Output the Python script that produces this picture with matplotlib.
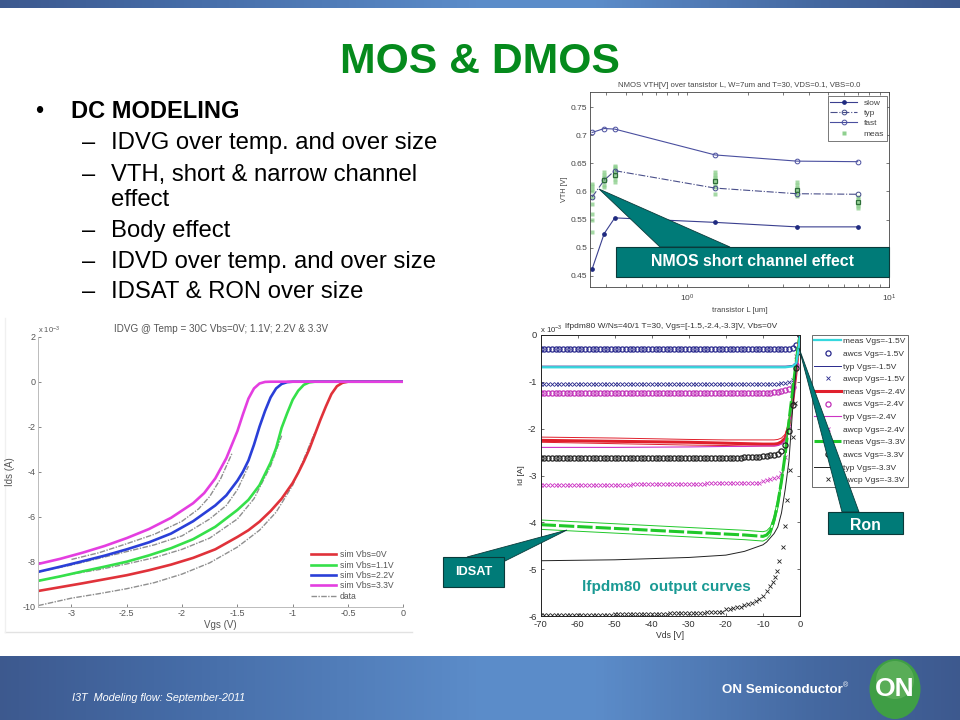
import numpy as np
import matplotlib
matplotlib.use("Agg")
import matplotlib.pyplot as plt
from matplotlib.patches import Polygon, Rectangle, Ellipse
from matplotlib.ticker import FixedLocator, NullFormatter

plt.rcParams['font.family'] = ['Liberation Sans', 'DejaVu Sans']
plt.rcParams['axes.unicode_minus'] = False

W, H = 960, 720

# ---- NMOS VTH chart ----
L_um = [0.34, 0.39, 0.44, 1.38, 3.5, 7.0]
vth_slow = [0.462, 0.525, 0.553, 0.545, 0.537, 0.537]
vth_typ = [0.590, 0.620, 0.637, 0.606, 0.596, 0.595]
vth_fast = [0.705, 0.712, 0.711, 0.665, 0.654, 0.653]
meas_L = [0.34]*9 + [0.39]*7 + [0.44]*8 + [1.38]*8 + [3.5]*6 + [7.0]*6
meas_vth = [0.528, 0.55, 0.56, 0.578, 0.59, 0.60, 0.605, 0.61, 0.613,
            0.608, 0.612, 0.618, 0.622, 0.626, 0.63, 0.634,
            0.617, 0.622, 0.628, 0.632, 0.636, 0.64, 0.643, 0.646,
            0.595, 0.608, 0.613, 0.618, 0.622, 0.626, 0.63, 0.635,
            0.592, 0.598, 0.603, 0.607, 0.611, 0.616,
            0.57, 0.574, 0.578, 0.582, 0.586, 0.591]
box_L = [0.39, 0.44, 1.38, 3.5, 7.0]
box_vth = [0.621, 0.630, 0.618, 0.603, 0.582]

# ---- IDVG chart ----
vgs_red = [-3.3, -3.1, -2.9, -2.7, -2.5, -2.3, -2.1, -1.9, -1.7, -1.5, -1.4, -1.3, -1.2, -1.1, -1.0, -0.95, -0.9, -0.85, -0.8, -0.75, -0.7, -0.65, -0.6, -0.55, -0.5, 0]
ids_red = [-9.3, -9.13, -8.96, -8.78, -8.6, -8.38, -8.13, -7.83, -7.45, -6.9, -6.6, -6.22, -5.75, -5.2, -4.5, -4.05, -3.55, -3.0, -2.35, -1.7, -1.1, -0.55, -0.2, -0.05, 0, 0]
vgs_green = [-3.3, -3.1, -2.9, -2.7, -2.5, -2.3, -2.1, -1.9, -1.7, -1.5, -1.4, -1.3, -1.2, -1.15, -1.1, -1.05, -1.0, -0.95, -0.9, -0.85, -0.8, 0]
ids_green = [-8.85, -8.65, -8.43, -8.22, -8.0, -7.72, -7.4, -7.0, -6.45, -5.7, -5.25, -4.6, -3.6, -2.95, -2.05, -1.4, -0.8, -0.4, -0.14, -0.03, 0, 0]
vgs_blue = [-3.3, -3.1, -2.9, -2.7, -2.5, -2.3, -2.1, -1.9, -1.7, -1.6, -1.5, -1.45, -1.4, -1.35, -1.3, -1.25, -1.2, -1.15, -1.1, -1.05, -1.0, 0]
ids_blue = [-8.45, -8.22, -7.98, -7.73, -7.45, -7.14, -6.75, -6.2, -5.5, -5.05, -4.4, -4.0, -3.5, -2.8, -2.0, -1.3, -0.7, -0.3, -0.1, -0.02, 0, 0]
vgs_mag = [-3.3, -3.1, -2.9, -2.7, -2.5, -2.3, -2.1, -1.9, -1.8, -1.7, -1.6, -1.55, -1.5, -1.45, -1.4, -1.35, -1.3, -1.25, -1.2, 0]
ids_mag = [-8.1, -7.87, -7.6, -7.3, -6.95, -6.55, -6.05, -5.4, -4.95, -4.3, -3.4, -2.8, -2.2, -1.45, -0.75, -0.3, -0.08, -0.01, 0, 0]
vgs_data = [-3.3, -3, -2.75, -2.5, -2.25, -2, -1.75, -1.5, -1.3, -1.15, -1, -0.9, -0.8]
ids_data_red = [-9.95, -9.62, -9.42, -9.2, -8.93, -8.55, -8.05, -7.35, -6.6, -5.8, -4.6, -3.45, -2.25]
vgs_data2 = [-3.3, -3, -2.75, -2.5, -2.25, -2, -1.75, -1.5, -1.35, -1.2, -1.1]
ids_data_green = [-8.85, -8.55, -8.35, -8.1, -7.82, -7.45, -6.95, -6.1, -5.2, -3.75, -2.4]
vgs_data3 = [-3.3, -3, -2.75, -2.5, -2.25, -2, -1.75, -1.6, -1.5, -1.4]
ids_data_blue = [-8.45, -8.15, -7.85, -7.55, -7.25, -6.85, -6.1, -5.5, -4.8, -3.75]
vgs_data4 = [-3, -2.75, -2.5, -2.25, -2, -1.85, -1.75, -1.65, -1.55]
ids_data_mag = [-7.9, -7.6, -7.2, -6.78, -6.2, -5.65, -5.1, -4.3, -3.2]

# ---- Output curves chart ----
vds_sweep = list(range(-70, 1))
awcs15 = [-0.30]*66 + [-0.30, -0.29, -0.27, -0.22, 0.0]
awcp15 = [-1.05]*64 + [-1.04, -1.03, -1.02, -1.0, -0.96, -0.65, 0.0]
awcs24 = [-1.24]*63 + [-1.22, -1.21, -1.2, -1.18, -1.15, -1.1, -0.65, 0.0]
awcp24 = [-3.2]*25 + [-3.18]*20 + [-3.15]*15 + [-3.12, -3.1, -3.08, -3.06, -3.03, -2.95, -2.6, -1.95, -1.1, -0.45, 0.0]
awcs33 = [-2.62]*55 + [-2.61]*5 + [-2.58, -2.58, -2.57, -2.56, -2.55, -2.48, -2.35, -2.05, -1.5, -0.7, 0.0]
vds_awcp33 = list(range(-70, -20)) + [-20, -19, -18, -17, -16, -15, -14, -13, -12, -11, -10, -9, -8, -7.2, -6.8, -6.1, -5.6, -4.7, -4, -3.4, -2.7, -1.8, -1.35, -0.4, 0]
awcp33 = [-5.97]*20 + [-5.95]*15 + [-5.93]*10 + [-5.91]*5 + [-5.85, -5.84, -5.83, -5.81, -5.8, -5.77, -5.75, -5.72, -5.68, -5.63, -5.57, -5.47, -5.37, -5.27, -5.17, -5.03, -4.83, -4.53, -4.07, -3.52, -2.88, -2.18, -1.46, -0.4, 0.0]

vds_line = [-70, -50, -30, -20, -15, -10, -9, -8, -7, -6, -5, -4, -3, -2, -1, -0.4, 0]
meas15 = [-0.69, -0.69, -0.69, -0.69, -0.69, -0.69, -0.69, -0.69, -0.69, -0.69, -0.69, -0.69, -0.68, -0.67, -0.6, -0.3, 0]
typ15 = [-0.665, -0.665, -0.665, -0.665, -0.665, -0.665, -0.665, -0.665, -0.665, -0.665, -0.665, -0.665, -0.66, -0.65, -0.58, -0.28, 0]
meas24 = [-2.25, -2.27, -2.29, -2.31, -2.32, -2.33, -2.33, -2.33, -2.33, -2.32, -2.28, -2.2, -1.93, -1.45, -0.75, -0.25, 0]
meas24a = [-2.18, -2.2, -2.23, -2.24, -2.24, -2.24, -2.24, -2.24, -2.24, -2.23, -2.2, -2.12, -1.88, -1.4, -0.72, -0.24, 0]
meas24b = [-2.29, -2.32, -2.35, -2.36, -2.37, -2.37, -2.37, -2.37, -2.37, -2.36, -2.32, -2.24, -1.97, -1.5, -0.78, -0.26, 0]
typ24 = [-2.40, -2.40, -2.39, -2.38, -2.38, -2.37, -2.37, -2.37, -2.37, -2.36, -2.33, -2.25, -1.98, -1.5, -0.78, -0.26, 0]
meas33 = [-4.05, -4.13, -4.21, -4.25, -4.27, -4.3, -4.27, -4.18, -3.95, -3.6, -3.12, -2.55, -1.85, -1.2, -0.55, -0.2, 0]
meas33a = [-3.95, -4.03, -4.11, -4.15, -4.17, -4.2, -4.18, -4.1, -3.87, -3.5, -3.05, -2.5, -1.8, -1.17, -0.53, -0.19, 0]
meas33b = [-4.15, -4.23, -4.31, -4.35, -4.37, -4.4, -4.36, -4.27, -4.03, -3.7, -3.2, -2.6, -1.9, -1.23, -0.57, -0.21, 0]
typ33 = [-4.82, -4.8, -4.75, -4.7, -4.62, -4.48, -4.42, -4.33, -4.24, -4.1, -3.8, -3.3, -2.7, -1.6, -0.7, -0.25, 0]

fig = plt.figure(figsize=(W/100, H/100), dpi=100, facecolor='white')


def box(l, t, r, b, **kw):
    return fig.add_axes([l/W, 1-b/H, (r-l)/W, (b-t)/H], **kw)


# ---- Slide furniture, behind charts ----
bg = fig.add_axes([0, 0, 1, 1], zorder=0)
bg.set_xlim(0, W); bg.set_ylim(H, 0); bg.axis('off')
stops = np.array([0, 0.18, 0.5, 0.62, 0.85, 1])
ch = [np.interp(np.linspace(0, 1, 256), stops, v) for v in
      ([0.24, 0.27, 0.36, 0.36, 0.27, 0.24], [0.35, 0.42, 0.55, 0.55, 0.41, 0.35], [0.56, 0.65, 0.79, 0.79, 0.63, 0.56])]
grad = np.dstack(ch)
bg.imshow(grad, extent=(0, W, 8, 0), aspect='auto', zorder=1)
bg.imshow(grad, extent=(0, W, H, 656), aspect='auto', zorder=1)
bg.set_xlim(0, W); bg.set_ylim(H, 0)

bg.text(480, 62, 'MOS & DMOS', color='#058a1c', fontsize=30.8, fontweight='bold', ha='center', va='center')
bg.text(35, 112, '•', fontsize=17, ha='left', va='center', color='black')
bg.text(71, 112, 'DC MODELING', fontsize=17, fontweight='bold', ha='left', va='center', color='black')
items = [(143, True, 'IDVG over temp. and over size'),
         (175, True, 'VTH, short & narrow channel'),
         (200, False, 'effect'),
         (231, True, 'Body effect'),
         (262, True, 'IDVD over temp. and over size'),
         (292, True, 'IDSAT & RON over size')]
for y, dash, s in items:
    if dash:
        bg.text(82, y, '–', fontsize=17, ha='left', va='center', color='black')
    bg.text(111, y, s, fontsize=17.2, ha='left', va='center', color='black')
bg.plot([5, 412], [632, 632], color='#e2e2e2', lw=1)
bg.plot([5, 5], [318, 632], color='#f0f0f0', lw=1)

bg.text(72, 698, 'I3T  Modeling flow: September-2011', color='white', fontsize=7.8, style='italic', ha='left', va='center')
bg.text(722, 690, 'ON Semiconductor', color='white', fontsize=9.6, fontweight='bold', ha='left', va='center')
bg.text(843, 686, '®', color='white', fontsize=5, ha='left', va='center')
bg.add_patch(Ellipse((895, 689), 51, 60, fc='#3f9e45', ec='none', zorder=2))
bg.add_patch(Ellipse((895, 680), 38, 38, fc='#6cb864', ec='none', zorder=2, alpha=0.6))
bg.text(895, 689, 'ON', color='white', fontsize=19, fontweight='bold', ha='center', va='center', zorder=3)

# ---- VTH chart ----
GR = '#444444'
ax1 = box(590.3, 92, 889, 287, zorder=2)
ax1.set_xscale('log')
ax1.plot(meas_L, meas_vth, ls='none', marker='s', ms=3, color='#8fd08f', alpha=0.8, mec='none', label='_n')
ax1.plot(L_um, vth_slow, '-', color='#3a3f8f', lw=0.8, marker='o', ms=2.4, mfc='#1f2a80', mec='#1f2a80', label='slow')
ax1.plot(L_um, vth_typ, '-.', color='#4a4f8a', lw=0.8, marker='o', ms=3.4, mfc='none', mec='#3f4a88', mew=0.7, label='typ')
ax1.plot(L_um, vth_fast, '-', color='#4a4f9f', lw=0.8, marker='o', ms=3.4, mfc='none', mec='#4a4f9f', mew=0.7, label='fast')
ax1.plot(box_L, box_vth, ls='none', marker='s', ms=3.2, mfc='none', mec='#2f6f3a', mew=0.9, label='_b')
ax1.plot([], [], ls='none', marker='s', ms=2.6, color='#8fd08f', mec='none', label='meas')
ax1.set_xlim(0.333, 10); ax1.set_ylim(0.43, 0.777)
ax1.set_yticks([0.45, 0.5, 0.55, 0.6, 0.65, 0.7, 0.75])
ax1.set_yticklabels(['0.45', '0.5', '0.55', '0.6', '0.65', '0.7', '0.75'])
ax1.xaxis.set_major_locator(FixedLocator([1, 10]))
ax1.xaxis.set_minor_locator(FixedLocator([0.4, 0.5, 0.6, 0.7, 0.8, 0.9, 2, 3, 4, 5, 6, 7, 8, 9]))
ax1.xaxis.set_minor_formatter(NullFormatter())
ax1.set_xticklabels(['$\\mathregular{10^{0}}$', '$\\mathregular{10^{1}}$'])
ax1.tick_params(axis='both', which='both', direction='in', labelsize=6, colors=GR, length=2.5, width=0.5, top=True, right=True, pad=2)
ax1.tick_params(axis='x', pad=4)
for s in ax1.spines.values():
    s.set_color(GR); s.set_linewidth(0.6)
ax1.set_title('NMOS VTH[V] over tansistor L, W=7um and T=30, VDS=0.1, VBS=0.0', fontsize=5.6, color=GR, pad=3.5)
ax1.set_xlabel('transistor L [um]', fontsize=5.6, color=GR, labelpad=2)
ax1.set_ylabel('VTH [V]', fontsize=5.2, color=GR, labelpad=2)
ax1.legend(loc='upper right', fontsize=6, frameon=True, fancybox=False, edgecolor=GR, framealpha=1,
           labelcolor=GR, borderpad=0.35, labelspacing=0.3, handlelength=3.2, handletextpad=0.8,
           bbox_to_anchor=(0.9935, 0.98), borderaxespad=0).get_frame().set_linewidth(0.5)

# ---- IDVG chart ----
LG = '#555555'
ax2 = box(38.3, 336.7, 403.3, 606.7, zorder=2)
dd = dict(color='#8f8f8f', lw=1.0, ls=(0, (4, 1, 1, 1)))
ax2.plot(vgs_data, ids_data_red, **dd)
ax2.plot(vgs_data2, ids_data_green, **dd)
ax2.plot(vgs_data3, ids_data_blue, **dd)
ax2.plot(vgs_data4, ids_data_mag, **dd)
ax2.plot(vgs_red, ids_red, color='#e0323a', lw=1.9, label='sim Vbs=0V')
ax2.plot(vgs_green, ids_green, color='#35e04a', lw=1.9, label='sim Vbs=1.1V')
ax2.plot(vgs_blue, ids_blue, color='#2a3fd8', lw=1.9, label='sim Vbs=2.2V')
ax2.plot(vgs_mag, ids_mag, color='#e43ee0', lw=1.9, label='sim Vbs=3.3V')
ax2.plot([], [], label='data', **dd)
ax2.set_xlim(-3.3, 0); ax2.set_ylim(-10, 2)
ax2.set_xticks([-3, -2.5, -2, -1.5, -1, -0.5, 0])
ax2.set_xticklabels(['-3', '-2.5', '-2', '-1.5', '-1', '-0.5', '0'])
ax2.set_yticks([2, 0, -2, -4, -6, -8, -10])
ax2.tick_params(axis='both', direction='in', labelsize=6.5, colors=LG, length=2, width=0.5, pad=2)
for k in ('top', 'right'):
    ax2.spines[k].set_visible(False)
for k in ('left', 'bottom'):
    ax2.spines[k].set_color('#bbbbbb'); ax2.spines[k].set_linewidth(0.7)
ax2.set_xlabel('Vgs (V)', fontsize=7, color=LG, labelpad=1)
ax2.set_ylabel('Ids (A)', fontsize=7, color=LG)
ax2.yaxis.set_label_coords(-0.064, 0.5)
ax2.text(0.5, 1.03, 'IDVG @ Temp = 30C Vbs=0V; 1.1V; 2.2V & 3.3V', transform=ax2.transAxes, fontsize=7.1, color=LG, ha='center', va='center', clip_on=False)
ax2.text(0, 1.025, r'x 10$^{\mathregular{-3}}$', transform=ax2.transAxes, fontsize=5.4, color=LG, ha='left', va='center')
ax2.legend(loc='lower right', fontsize=6.2, frameon=False, labelcolor=LG, labelspacing=0.16,
           handlelength=2.9, handletextpad=0.4, bbox_to_anchor=(0.99, 0.0), borderaxespad=0.3)

# ---- Output chart ----
ax3 = box(540.7, 335, 800, 616, zorder=2)
CI = dict(ls='none', marker='o', ms=3.7, mfc='none', mew=0.9)
XX = dict(ls='none', marker='x', ms=2.8, mew=0.6)
ax3.plot(vds_line, typ15, color='#28288c', lw=0.7, zorder=2)
ax3.plot(vds_line, meas15, color='#35d8de', lw=1.6, label='meas Vgs=-1.5V', zorder=2.1)
ax3.plot(vds_sweep, awcs15, mec='#28288c', label='awcs Vgs=-1.5V', **CI)
ax3.plot([], [], color='#28288c', lw=0.7, label='typ Vgs=-1.5V')
ax3.plot(vds_sweep, awcp15, color='#28288c', label='awcp Vgs=-1.5V', **XX)
ax3.plot(vds_line, meas24, color='#e0202c', lw=2.2, label='meas Vgs=-2.4V')
ax3.plot(vds_line, meas24a, color='#e0202c', lw=0.7)
ax3.plot(vds_line, meas24b, color='#e0202c', lw=0.7)
ax3.plot(vds_sweep, awcs24, mec='#c030b8', label='awcs Vgs=-2.4V', **CI)
ax3.plot(vds_line, typ24, color='#cc33c4', lw=0.8, label='typ Vgs=-2.4V')
ax3.plot(vds_sweep, awcp24, color='#cc33c4', label='awcp Vgs=-2.4V', **XX)
ax3.plot(vds_line, meas33, color='#20c82a', lw=2.2, ls=(0, (5, 1)), label='meas Vgs=-3.3V')
ax3.plot(vds_line, meas33a, color='#20c82a', lw=0.7)
ax3.plot(vds_line, meas33b, color='#20c82a', lw=0.7)
ax3.plot(vds_sweep, awcs33, mec='#222222', label='awcs Vgs=-3.3V', **CI)
ax3.plot(vds_line, typ33, color='#222222', lw=0.7, label='typ Vgs=-3.3V')
ax3.plot(vds_awcp33, awcp33, color='#222222', label='awcp Vgs=-3.3V', **XX)
ax3.set_xlim(-70, 0); ax3.set_ylim(-6, 0)
ax3.set_xticks(range(-70, 1, 10))
ax3.set_yticks(range(-6, 1))
ax3.tick_params(axis='both', direction='in', labelsize=6.8, colors='#333333', length=2.5, width=0.5, top=True, right=True, pad=3)
for s in ax3.spines.values():
    s.set_color('#222222'); s.set_linewidth(0.7)
ax3.set_xlabel('Vds [V]', fontsize=6.2, color='#333333', labelpad=1)
ax3.set_ylabel('Id [A]', fontsize=6, color='#333333', labelpad=2)
ax3.text(-0.002, 1.02, r'x 10$^{\mathregular{-3}}$', transform=ax3.transAxes, fontsize=5.6, color='#333333', ha='left', va='center')
ax3.text(0.503, 1.032, 'lfpdm80 W/Ns=40/1 T=30, Vgs=[-1.5,-2.4,-3.3]V, Vbs=0V', transform=ax3.transAxes, fontsize=6.0, color='#333333', ha='center', va='center')
leg = ax3.legend(loc='upper left', bbox_to_anchor=(1.045, 1.0), borderaxespad=0, fontsize=6, frameon=True,
                 fancybox=False, edgecolor='#555555', framealpha=1, labelcolor='#333333', labelspacing=0.575,
                 handlelength=3.2, handletextpad=0.3, borderpad=0.3, numpoints=1)
leg.get_frame().set_linewidth(0.6)

# ---- Callouts on top ----
top = fig.add_axes([0, 0, 1, 1], zorder=5)
top.set_xlim(0, W); top.set_ylim(H, 0); top.axis('off'); top.patch.set_alpha(0)
TEAL = '#007b78'
CE = '#0a3a3a'
top.add_patch(Polygon([(660, 247), (599, 189), (730, 247)], fc=TEAL, ec=CE, lw=0.6))
top.add_patch(Rectangle((616, 247), 273, 30, fc=TEAL, ec=CE, lw=0.8))
top.text(752.5, 261.5, 'NMOS short channel effect', color='white', fontsize=11.4, fontweight='bold', ha='center', va='center')
top.add_patch(Polygon([(842, 512), (799, 348), (859, 512)], fc=TEAL, ec=CE, lw=0.6))
top.add_patch(Rectangle((828, 512), 75, 22, fc=TEAL, ec=CE, lw=0.8))
top.text(865.5, 525.5, 'Ron', color='white', fontsize=11.4, fontweight='bold', ha='center', va='center')
top.add_patch(Polygon([(467, 557), (567, 530), (503, 562)], fc=TEAL, ec=CE, lw=0.6))
top.add_patch(Rectangle((443, 557), 61, 30, fc=TEAL, ec=CE, lw=0.8))
top.text(473.5, 572, 'IDSAT', color='white', fontsize=9.2, fontweight='bold', ha='center', va='center')
top.text(666, 587, 'lfpdm80  output curves', color='#1a9a94', fontsize=11, fontweight='bold', ha='center', va='center')

fig.savefig('out.png', dpi=100)
